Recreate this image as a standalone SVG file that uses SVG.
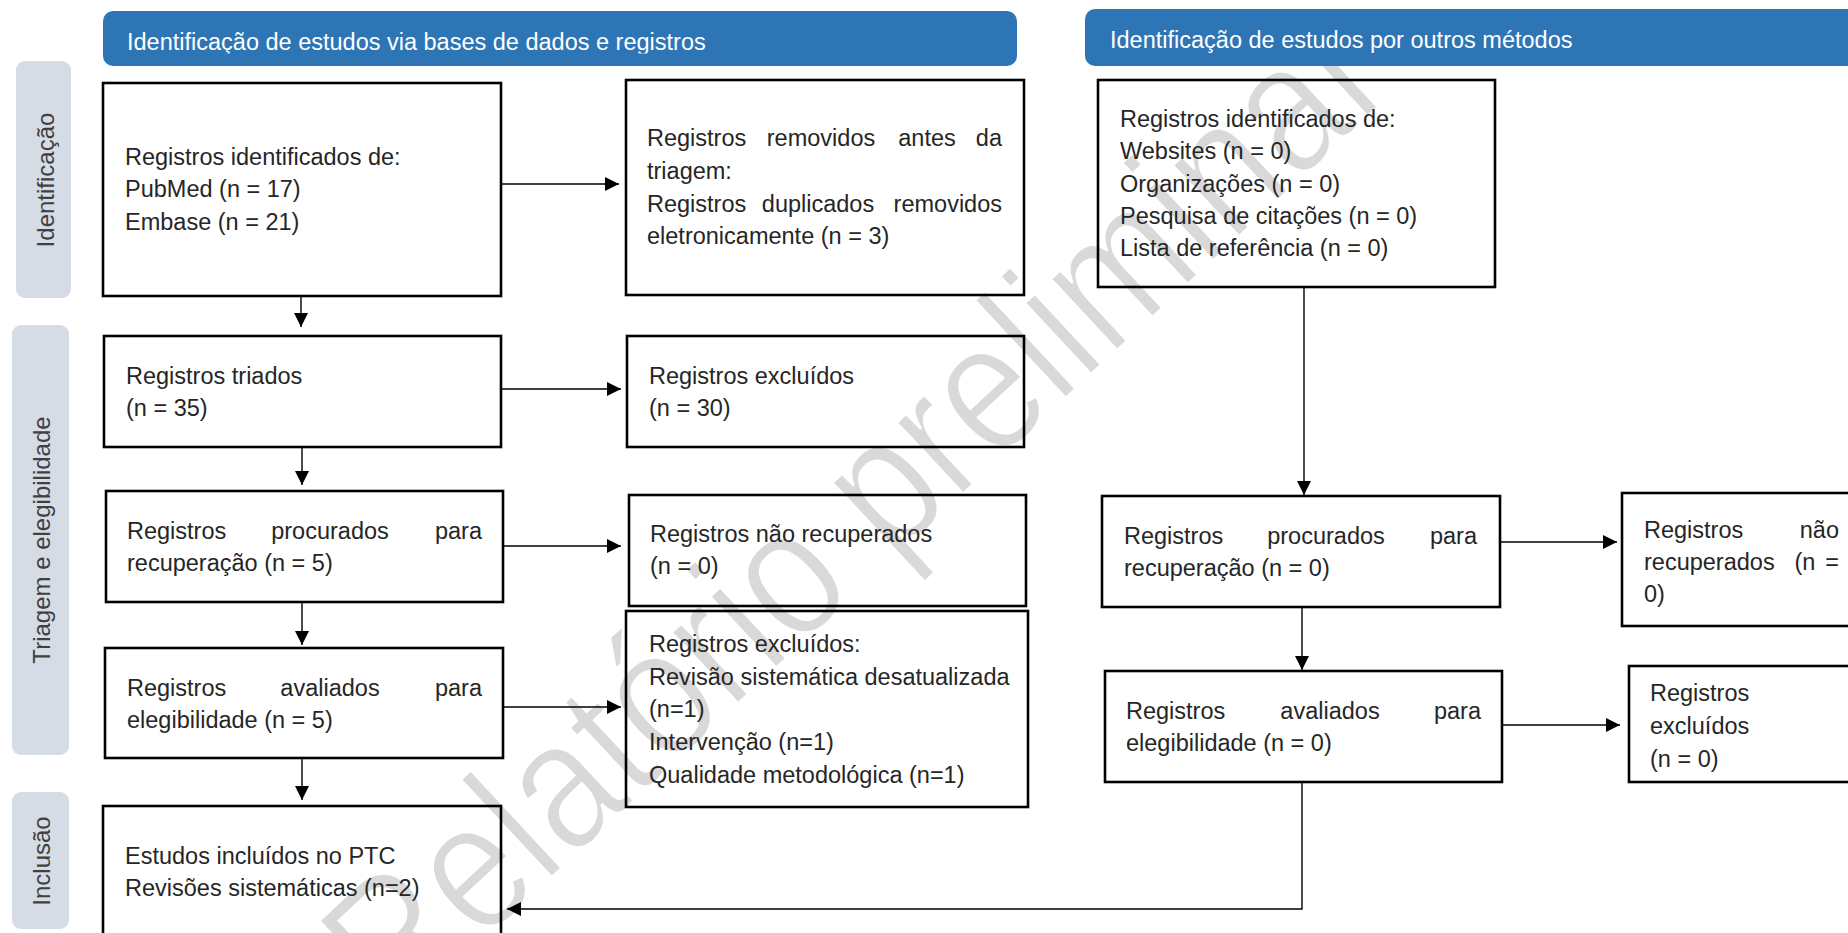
<svg xmlns="http://www.w3.org/2000/svg" width="1848" height="933" viewBox="0 0 1848 933">
<defs>
<style>
.hdr{fill:#2e75b6}
.hdrt{fill:#ffffff;font-family:"Liberation Sans",Arial,sans-serif;font-size:23.5px}
.side{fill:#d6dce5}
.sidet{fill:#404040;font-family:"Liberation Sans",Arial,sans-serif;font-size:24px;text-anchor:middle}
.box{fill:none;stroke:#000;stroke-width:2.6}
.t{fill:#262626;font-family:"Liberation Sans",Arial,sans-serif;font-size:23.5px}
.e{text-anchor:end}
.m{text-anchor:middle}
.c{fill:none;stroke:#000;stroke-width:1.4;marker-end:url(#ah)}
.wm{fill:#d9d9d9;stroke:#ffffff;stroke-width:3;font-family:"Liberation Sans",Arial,sans-serif;font-size:185px;text-anchor:middle}
</style>
<marker id="ah" markerUnits="userSpaceOnUse" markerWidth="16" markerHeight="16" refX="14" refY="7" orient="auto">
<path d="M0,0 L14,7 L0,14 Z" fill="#000"/>
</marker>
<clipPath id="hclip"><rect x="103" y="11" width="914" height="42.5"/></clipPath>
</defs>
<rect width="1848" height="933" fill="#ffffff"/>

<g id="watermark">
<text class="wm" transform="translate(855,510) rotate(-43)" x="0" y="62" textLength="1370" lengthAdjust="spacingAndGlyphs">Relatório preliminar</text>
</g>

<g id="header-left">
<rect class="hdr" x="103" y="11" width="914" height="55" rx="10"/>
<text class="hdrt" x="127" y="50" clip-path="url(#hclip)">Identificação de estudos via bases de dados e registros</text>
</g>
<g id="header-right">
<rect class="hdr" x="1085" y="9" width="790" height="57" rx="10"/>
<text class="hdrt" x="1110" y="48">Identificação de estudos por outros métodos</text>
</g>

<g id="side-identificacao">
<rect class="side" x="16" y="61" width="55" height="237" rx="9"/>
<text class="sidet" transform="translate(54,180) rotate(-90)">Identificação</text>
</g>
<g id="side-triagem">
<rect class="side" x="12" y="325" width="57" height="430" rx="9"/>
<text class="sidet" transform="translate(50,540) rotate(-90)">Triagem e elegibilidade</text>
</g>
<g id="side-inclusao">
<rect class="side" x="12" y="792" width="57" height="137" rx="9"/>
<text class="sidet" transform="translate(50,861) rotate(-90)">Inclusão</text>
</g>

<g id="connectors">
<path class="c" d="M301,296 V327"/>
<path class="c" d="M501,184 H619"/>
<path class="c" d="M501,389 H621"/>
<path class="c" d="M302,447 V485"/>
<path class="c" d="M503,546 H621"/>
<path class="c" d="M302,602 V645"/>
<path class="c" d="M503,707 H621"/>
<path class="c" d="M302,758 V800"/>
<path class="c" d="M1304,287 V495"/>
<path class="c" d="M1500,542 H1617"/>
<path class="c" d="M1302,607 V670"/>
<path class="c" d="M1502,725 H1620"/>
<path class="c" d="M1302,782 V909 H507"/>
</g>

<g id="n-db-identified">
<rect class="box" x="103" y="83" width="398" height="213"/>
<text class="t" x="125" y="165">Registros identificados de:</text>
<text class="t" x="125" y="197">PubMed (n = 17)</text>
<text class="t" x="125" y="230">Embase (n = 21)</text>
</g>
<g id="n-removed">
<rect class="box" x="626" y="80" width="398" height="215"/>
<text class="t" x="647" y="146">Registros</text>
<text class="t m" x="821" y="146">removidos</text>
<text class="t m" x="927" y="146">antes</text>
<text class="t e" x="1002" y="146">da</text>
<text class="t" x="647" y="179">triagem:</text>
<text class="t" x="647" y="212">Registros</text>
<text class="t m" x="818" y="212">duplicados</text>
<text class="t e" x="1002" y="212">removidos</text>
<text class="t" x="647" y="244">eletronicamente (n = 3)</text>
</g>
<g id="n-other-identified">
<rect class="box" x="1098" y="80" width="397" height="207"/>
<text class="t" x="1120" y="127">Registros identificados de:</text>
<text class="t" x="1120" y="159">Websites (n = 0)</text>
<text class="t" x="1120" y="192">Organizações (n = 0)</text>
<text class="t" x="1120" y="224">Pesquisa de citações (n = 0)</text>
<text class="t" x="1120" y="256">Lista de referência (n = 0)</text>
</g>
<g id="n-screened">
<rect class="box" x="104" y="336" width="397" height="111"/>
<text class="t" x="126" y="384">Registros triados</text>
<text class="t" x="126" y="416">(n = 35)</text>
</g>
<g id="n-excluded-30">
<rect class="box" x="627" y="336" width="397" height="111"/>
<text class="t" x="649" y="384">Registros excluídos</text>
<text class="t" x="649" y="416">(n = 30)</text>
</g>
<g id="n-sought-db">
<rect class="box" x="106" y="491" width="397" height="111"/>
<text class="t" x="127" y="539">Registros</text>
<text class="t m" x="330" y="539">procurados</text>
<text class="t e" x="482" y="539">para</text>
<text class="t" x="127" y="571">recuperação (n = 5)</text>
</g>
<g id="n-not-retrieved-db">
<rect class="box" x="629" y="495" width="397" height="111"/>
<text class="t" x="650" y="542">Registros não recuperados</text>
<text class="t" x="650" y="574">(n = 0)</text>
</g>
<g id="n-excluded-reasons">
<rect class="box" x="626" y="611" width="402" height="196"/>
<text class="t" x="649" y="652">Registros excluídos:</text>
<text class="t" x="649" y="685">Revisão sistemática desatualizada</text>
<text class="t" x="649" y="717">(n=1)</text>
<text class="t" x="649" y="750">Intervenção (n=1)</text>
<text class="t" x="649" y="783">Qualidade metodológica (n=1)</text>
</g>
<g id="n-assessed-db">
<rect class="box" x="105" y="648" width="398" height="110"/>
<text class="t" x="127" y="696">Registros</text>
<text class="t m" x="330" y="696">avaliados</text>
<text class="t e" x="482" y="696">para</text>
<text class="t" x="127" y="728">elegibilidade (n = 5)</text>
</g>
<g id="n-included">
<rect class="box" x="103" y="806" width="398" height="140"/>
<text class="t" x="125" y="864">Estudos incluídos no PTC</text>
<text class="t" x="125" y="896">Revisões sistemáticas (n=2)</text>
</g>
<g id="n-sought-other">
<rect class="box" x="1102" y="496" width="398" height="111"/>
<text class="t" x="1124" y="544">Registros</text>
<text class="t m" x="1326" y="544">procurados</text>
<text class="t e" x="1477" y="544">para</text>
<text class="t" x="1124" y="576">recuperação (n = 0)</text>
</g>
<g id="n-not-retrieved-other">
<rect class="box" x="1622" y="493" width="250" height="133"/>
<text class="t" x="1644" y="538">Registros</text>
<text class="t e" x="1839" y="538">não</text>
<text class="t" x="1644" y="570">recuperados</text>
<text class="t m" x="1805" y="570">(n</text>
<text class="t e" x="1839" y="570">=</text>
<text class="t" x="1644" y="602">0)</text>
</g>
<g id="n-assessed-other">
<rect class="box" x="1105" y="671" width="397" height="111"/>
<text class="t" x="1126" y="719">Registros</text>
<text class="t m" x="1330" y="719">avaliados</text>
<text class="t e" x="1481" y="719">para</text>
<text class="t" x="1126" y="751">elegibilidade (n = 0)</text>
</g>
<g id="n-excluded-other">
<rect class="box" x="1629" y="666" width="250" height="116"/>
<text class="t" x="1650" y="701">Registros</text>
<text class="t" x="1650" y="734">excluídos</text>
<text class="t" x="1650" y="767">(n = 0)</text>
</g>
</svg>
